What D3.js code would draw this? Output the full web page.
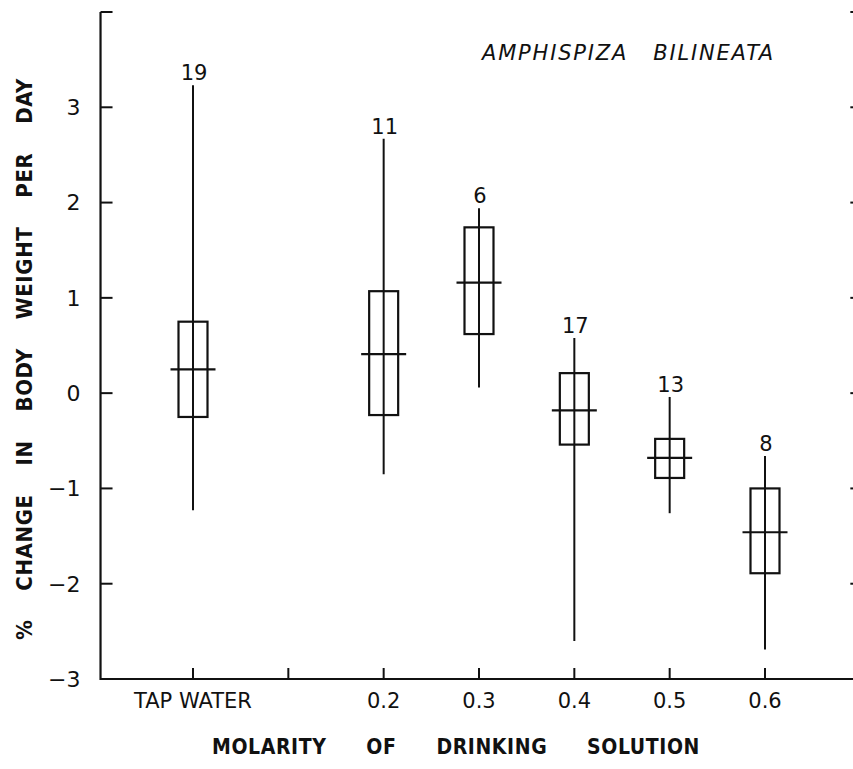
<!DOCTYPE html>
<html>
<head>
<meta charset="utf-8">
<script src="https://cdn.jsdelivr.net/npm/d3@7"></script>
<style>
  body { margin: 0; background: #fff; }
  svg { display: block; }
  text { font-family: "DejaVu Sans", sans-serif; fill: #111; }
  .cond { font-family: "DejaVu Sans Condensed", "DejaVu Sans", sans-serif; font-stretch: condensed; }
</style>
</head>
<body>
<div id="chart"></div>
<script>
// Weight change vs. molarity of drinking solution (Amphispiza bilineata)
const molarity   = [0, 0.2, 0.3, 0.4, 0.5, 0.6];      // 0 = tap water
const sampleN    = [19, 11, 6, 17, 13, 8];
const rangeHigh  = [3.23, 2.67, 1.94, 0.58, -0.04, -0.66];
const rangeLow   = [-1.23, -0.85, 0.06, -2.60, -1.26, -2.69];
const boxHigh    = [0.75, 1.07, 1.74, 0.21, -0.48, -1.00];
const boxLow     = [-0.25, -0.23, 0.62, -0.54, -0.89, -1.89];
const means      = [0.25, 0.41, 1.16, -0.18, -0.68, -1.46];

const xTicks     = [0, 0.1, 0.2, 0.3, 0.4, 0.5, 0.6];
const xTickText  = ['TAP WATER', '', '0.2', '0.3', '0.4', '0.5', '0.6'];
const yTicks     = [-3, -2, -1, 0, 1, 2, 3, 4];
const yTickText  = ['\u22123', '\u22122', '\u22121', '0', '1', '2', '3', ''];

const W = 853, H = 769;
const ink = '#111';

const x = d3.scaleLinear().domain([0, 0.6]).range([193, 765]);
const y = d3.scaleLinear().domain([-3, 4]).range([679, 12]);

const xLeft  = x(-0.097);
const xRight = x(0.7);

const svg = d3.select('#chart').append('svg')
  .attr('width', W).attr('height', H);

// Lay out words of a lettered label evenly between x0 and x1 (old
// stencil lettering has very wide word gaps).
function spreadWords(parent, words, x0, x1, baseline, style) {
  const els = words.map(w => {
    const t = parent.append('text').attr('y', baseline).text(w);
    style(t);
    return t;
  });
  const widths = els.map(t => t.node().getComputedTextLength());
  const gap = (x1 - x0 - d3.sum(widths)) / Math.max(1, words.length - 1);
  let cx = x0;
  els.forEach((t, i) => { t.attr('x', cx); cx += widths[i] + gap; });
}

const rows = molarity.map((m, i) => ({
  m, n: sampleN[i], hi: rangeHigh[i], lo: rangeLow[i],
  bHi: boxHigh[i], bLo: boxLow[i], mean: means[i]
}));

// frame: left + bottom axis lines
svg.append('path')
  .attr('d', `M${xLeft},${y(4)}V${y(-3)}H${W + 5}`)
  .attr('fill', 'none').attr('stroke', ink).attr('stroke-width', 2.2);

// left ticks (inward)
svg.append('g').selectAll('line').data(yTicks).join('line')
  .attr('x1', xLeft).attr('x2', xLeft + 12)
  .attr('y1', d => y(d)).attr('y2', d => y(d))
  .attr('stroke', ink).attr('stroke-width', 2);

// right ticks (axis sits just off the page)
svg.append('g').selectAll('line').data(yTicks).join('line')
  .attr('x1', xRight).attr('x2', xRight - 10)
  .attr('y1', d => y(d)).attr('y2', d => y(d))
  .attr('stroke', ink).attr('stroke-width', 2);

// left tick labels
svg.append('g').selectAll('text').data(yTicks).join('text')
  .attr('x', xLeft - 20).attr('y', d => y(d)).attr('dy', '0.36em')
  .attr('text-anchor', 'end').attr('font-size', 22)
  .text((d, i) => yTickText[i]);

// bottom ticks (inward)
svg.append('g').selectAll('line').data(xTicks).join('line')
  .attr('x1', d => x(d)).attr('x2', d => x(d))
  .attr('y1', y(-3)).attr('y2', y(-3) - 11)
  .attr('stroke', ink).attr('stroke-width', 2);

svg.append('g').selectAll('text').data(xTicks).join('text')
  .attr('x', d => x(d)).attr('y', 708)
  .attr('text-anchor', 'middle').attr('font-size', 21)
  .text((d, i) => xTickText[i]);

// axis titles
spreadWords(svg, ['MOLARITY', 'OF', 'DRINKING', 'SOLUTION'], 212, 700, 754, t => t
  .attr('class', 'cond').attr('font-size', 21).attr('font-weight', 'bold')
  .attr('letter-spacing', 0.6));

const yTitle = svg.append('g')
  .attr('transform', 'translate(32,0) rotate(-90)');
spreadWords(yTitle, ['%', 'CHANGE', 'IN', 'BODY', 'WEIGHT', 'PER', 'DAY'], -640, -78, 0, t => t
  .attr('class', 'cond').attr('font-size', 22).attr('font-weight', 'bold')
  .attr('letter-spacing', 0.6));

// species name
spreadWords(svg, ['AMPHISPIZA', 'BILINEATA'], 482, 775, 60, t => t
  .attr('font-size', 21).attr('font-style', 'italic').attr('letter-spacing', 1.8));

// boxes
const boxW = 29, meanW = 45;
const g = svg.append('g').selectAll('g').data(rows).join('g');

g.append('line')
  .attr('x1', d => x(d.m)).attr('x2', d => x(d.m))
  .attr('y1', d => y(d.hi)).attr('y2', d => y(d.lo))
  .attr('stroke', ink).attr('stroke-width', 2);

g.append('rect')
  .attr('x', d => x(d.m) - boxW / 2).attr('width', boxW)
  .attr('y', d => y(d.bHi)).attr('height', d => y(d.bLo) - y(d.bHi))
  .attr('fill', 'none').attr('stroke', ink).attr('stroke-width', 2.2);

g.append('line')
  .attr('x1', d => x(d.m) - meanW / 2).attr('x2', d => x(d.m) + meanW / 2)
  .attr('y1', d => y(d.mean)).attr('y2', d => y(d.mean))
  .attr('stroke', ink).attr('stroke-width', 2.2);

g.append('text')
  .attr('x', d => x(d.m) + 1).attr('y', d => y(d.hi) - 5)
  .attr('text-anchor', 'middle').attr('font-size', 21)
  .text(d => d.n);
</script>
</body>
</html>
